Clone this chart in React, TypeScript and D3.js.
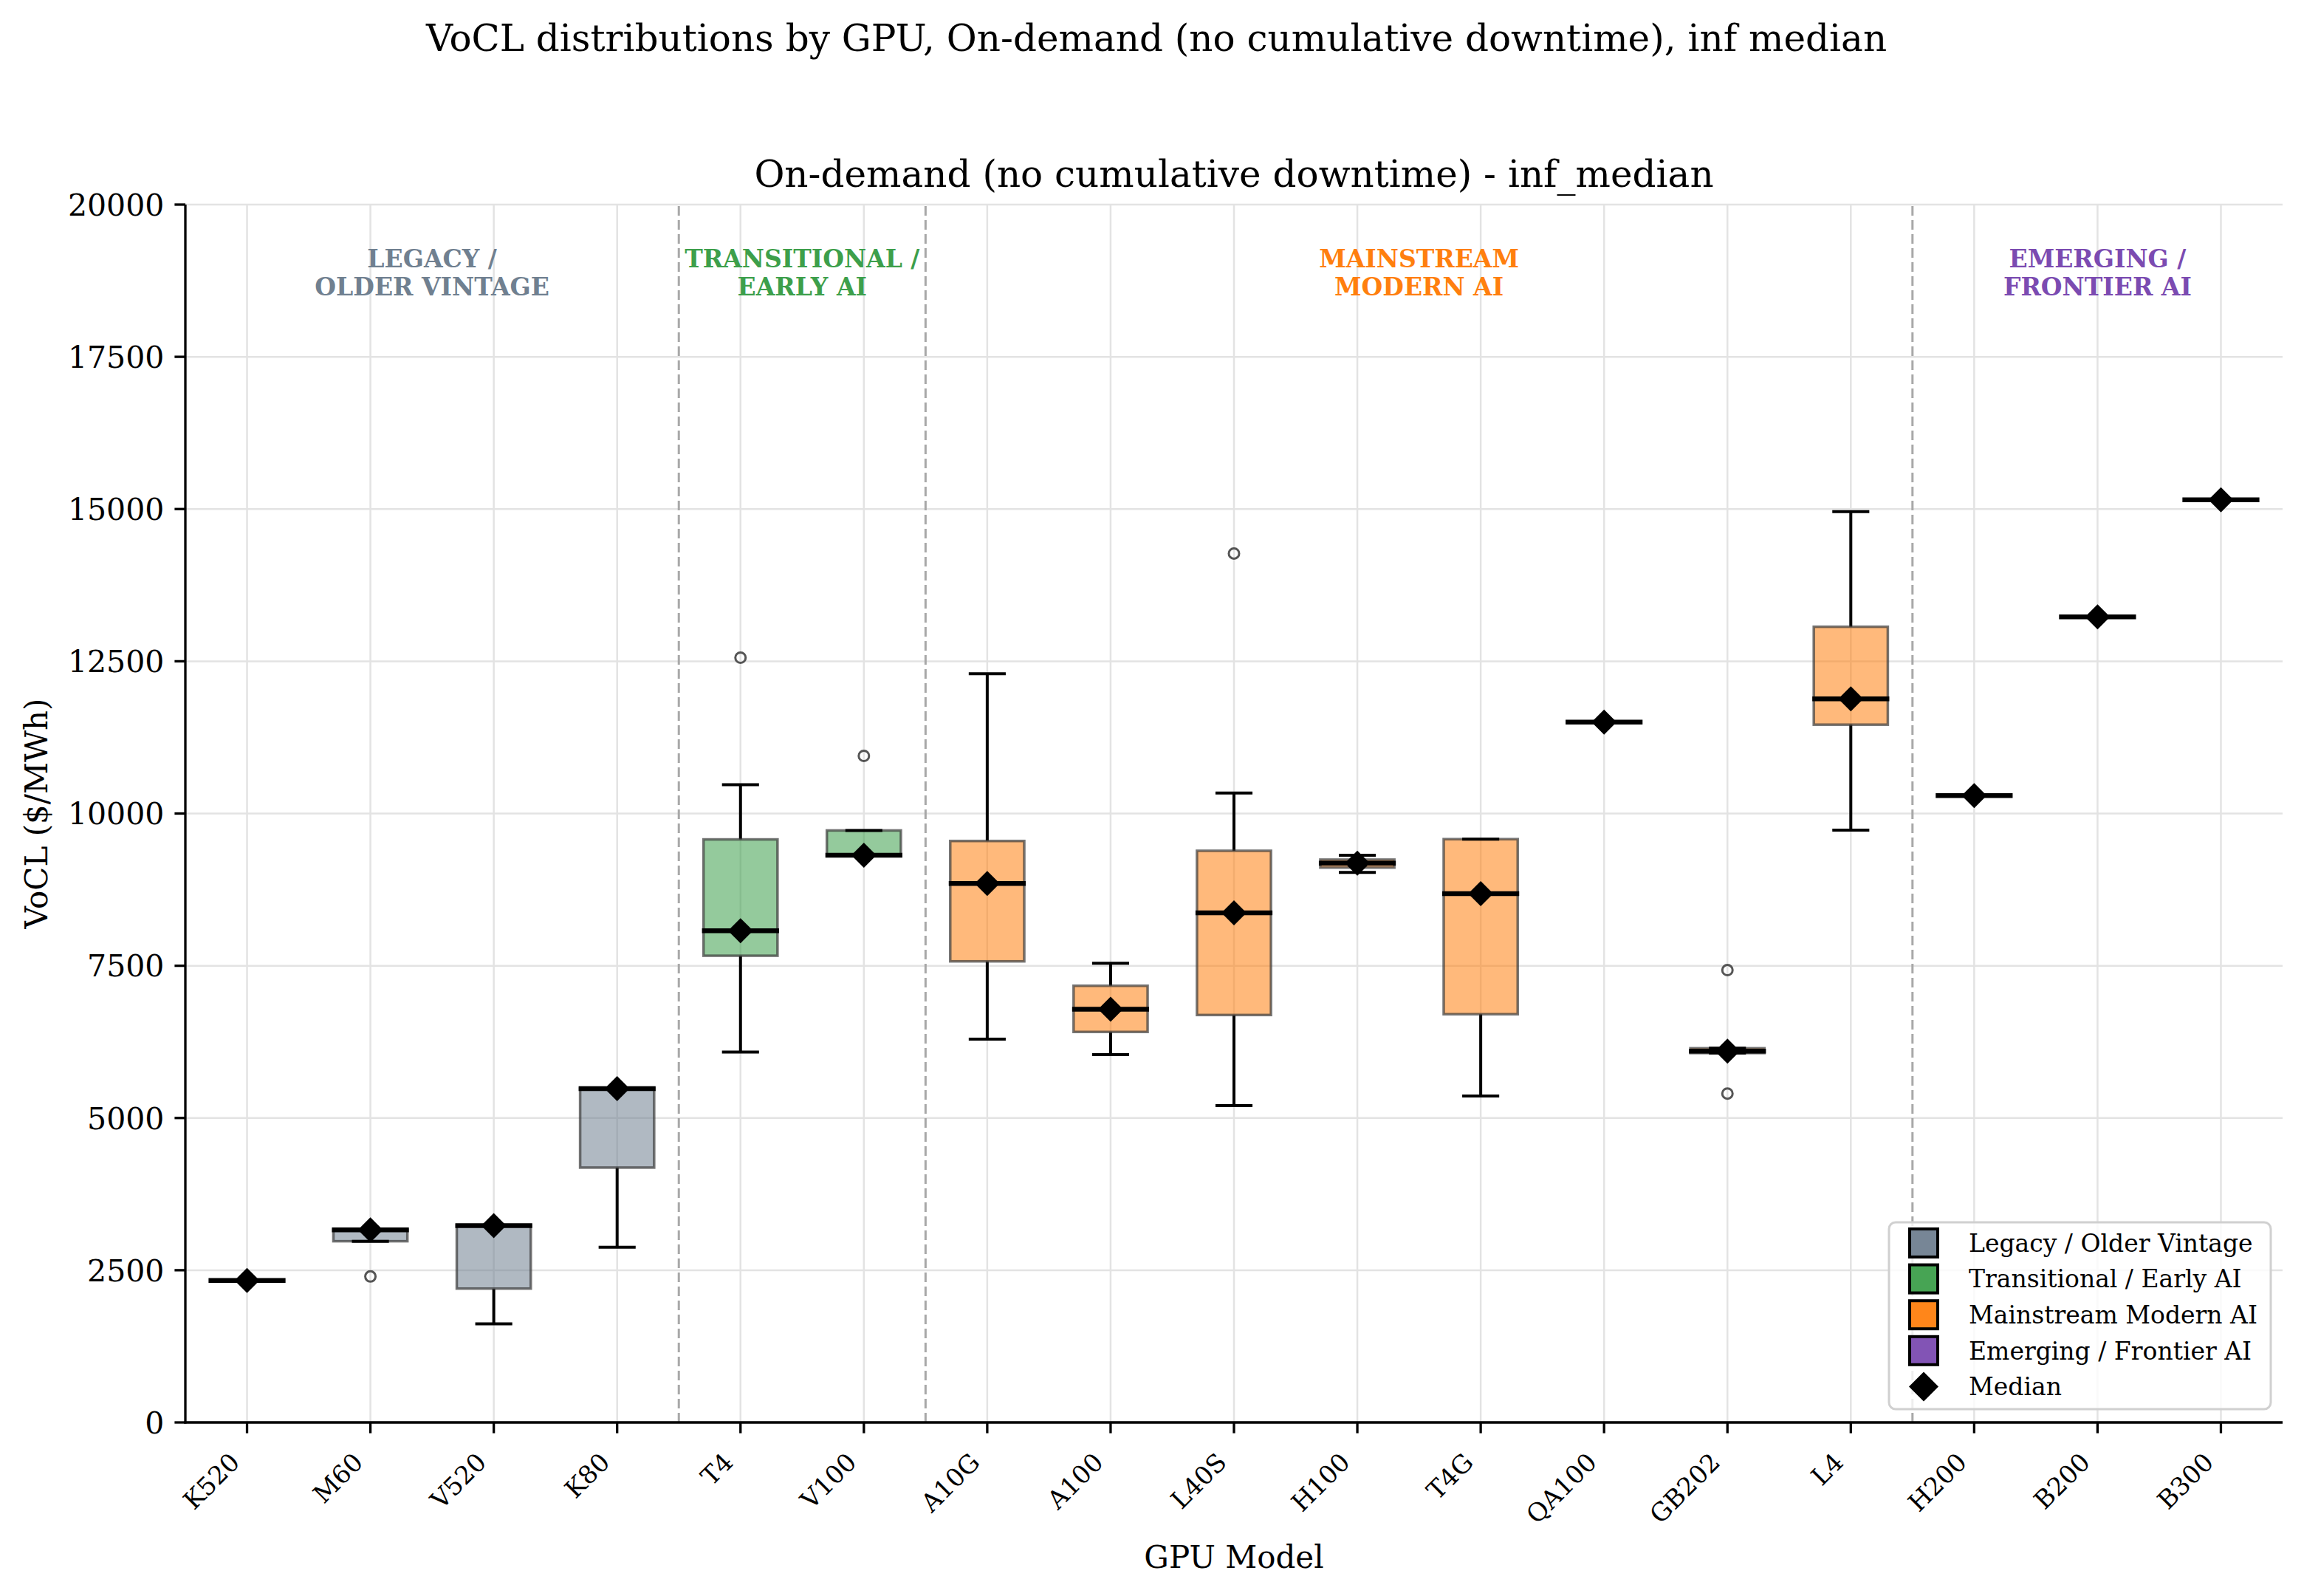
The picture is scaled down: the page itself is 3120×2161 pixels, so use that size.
import * as d3 from "d3"

// GPU categories, left to right
const gpus = ["K520", "M60", "V520", "K80", "T4", "V100", "A10G", "A100", "L40S", "H100", "T4G", "QA100", "GB202", "L4", "H200", "B200", "B300"]
const groupOf = [0, 0, 0, 0, 1, 1, 2, 2, 2, 2, 2, 2, 2, 2, 3, 3, 3]

// box statistics ($/MWh)
const whiskerLow = [2332, 2976, 1619, 2878, 6083, 9316, 6294, 6040, 5204, 9033, 5362, 11500, 6066, 9726, 10293, 13230, 15153]
const q1 = [2332, 2976, 2198, 4185, 7664, 9316, 7572, 6413, 6691, 9112, 6704, 11500, 6066, 11459, 10293, 13230, 15153]
const medians = [2332, 3162, 3231, 5482, 8076, 9316, 8850, 6787, 8368, 9184, 8684, 11500, 6099, 11882, 10293, 13230, 15153]
const q3 = [2332, 3162, 3231, 5482, 9575, 9722, 9549, 7171, 9388, 9243, 9579, 11500, 6145, 13067, 10293, 13230, 15153]
const whiskerHigh = [2332, 3162, 3231, 5482, 10474, 9722, 12294, 7540, 10336, 9316, 9579, 11500, 6145, 14958, 10293, 13230, 15153]
const outliers = [[], [2397], [], [], [12559], [10946], [], [], [14270], [], [], [], [7428, 5401], [], [], [], []]

const groupNames = ["Legacy / Older Vintage", "Transitional / Early AI", "Mainstream Modern AI", "Emerging / Frontier AI"]
const groupLabels = [["LEGACY /", "OLDER VINTAGE"], ["TRANSITIONAL /", "EARLY AI"], ["MAINSTREAM", "MODERN AI"], ["EMERGING /", "FRONTIER AI"]]
const groupColors = ["#708090", "#3d9f4b", "#ff7f0e", "#7b4bb1"]
const groupSpans = [[0, 3], [4, 5], [6, 13], [14, 16]]
const yTicks = [0, 2500, 5000, 7500, 10000, 12500, 15000, 17500, 20000]

const W = 3120
const H = 2161
const FONT = "DejaVu Serif"

export default function App() {
  const x = d3.scaleBand<string>().domain(gpus).range([251, 3091])
  const y = d3.scaleLinear().domain([0, 20000]).range([1926, 277])
  const bw = x.bandwidth()
  const cx = (i: number) => (x(gpus[i]) as number) + bw / 2
  const boxW = bw * 0.6
  const capW = boxW / 2
  const [left, right] = x.range()
  const [bottom, top] = y.range()
  const tick = 14.6

  const diamond = (px: number, py: number, r: number) => `M${px},${py - r}L${px + r},${py}L${px},${py + r}L${px - r},${py}Z`

  // dashed boundaries between groups
  const bounds = groupSpans.slice(0, -1).map((s) => cx(s[1]) + bw / 2)

  const legendX = 2558
  const legendY = 1655

  return (
    <svg width={W} height={H} style={{ position: "absolute", left: 0, top: 0, display: "block", background: "#fff" }} fontFamily={FONT}>
      <rect width={W} height={H} fill="#fff" />
      <text x={1566} y={69} fontSize={50} textAnchor="middle">
        VoCL distributions by GPU, On-demand (no cumulative downtime), inf median
      </text>
      <text x={(left + right) / 2} y={253} fontSize={50} textAnchor="middle">
        On-demand (no cumulative downtime) - inf_median
      </text>

      {/* grid */}
      <g stroke="#e3e3e3" strokeWidth={2.5}>
        {yTicks.map((t) => (
          <line key={t} x1={left} x2={right} y1={y(t)} y2={y(t)} />
        ))}
        {gpus.map((g, i) => (
          <line key={g} x1={cx(i)} x2={cx(i)} y1={bottom} y2={top} />
        ))}
      </g>

      {bounds.map((b) => (
        <line key={b} x1={b} x2={b} y1={bottom} y2={top} stroke="#a8a8a8" strokeWidth={3} strokeDasharray="13,6" />
      ))}

      {/* group annotations */}
      {groupSpans.map((s, gi) => {
        const mx = (cx(s[0]) + cx(s[1])) / 2
        return (
          <text key={gi} x={mx} y={362} fontSize={33} fontWeight="bold" fill={groupColors[gi]} textAnchor="middle">
            <tspan x={mx}>{groupLabels[gi][0]}</tspan>
            <tspan x={mx} dy={38}>
              {groupLabels[gi][1]}
            </tspan>
          </text>
        )
      })}

      {/* boxes */}
      {gpus.map((g, i) => {
        const c = cx(i)
        const col = groupColors[groupOf[i]]
        return (
          <g key={g}>
            <line x1={c} x2={c} y1={y(whiskerLow[i])} y2={y(q1[i])} stroke="#000" strokeWidth={4} />
            <line x1={c} x2={c} y1={y(q3[i])} y2={y(whiskerHigh[i])} stroke="#000" strokeWidth={4} />
            <rect
              x={c - boxW / 2}
              y={y(q3[i])}
              width={boxW}
              height={Math.max(0, y(q1[i]) - y(q3[i]))}
              fill={col}
              fillOpacity={0.55}
              stroke="#3a3a3a"
              strokeOpacity={0.7}
              strokeWidth={3.5}
            />
            <line x1={c - capW / 2} x2={c + capW / 2} y1={y(whiskerLow[i])} y2={y(whiskerLow[i])} stroke="#000" strokeWidth={4} />
            <line x1={c - capW / 2} x2={c + capW / 2} y1={y(whiskerHigh[i])} y2={y(whiskerHigh[i])} stroke="#000" strokeWidth={4} />
            <line x1={c - boxW / 2 - 2} x2={c + boxW / 2 + 2} y1={y(medians[i])} y2={y(medians[i])} stroke="#000" strokeWidth={6.5} />
            {outliers[i].map((o, k) => (
              <circle key={k} cx={c} cy={y(o)} r={7} fill="none" stroke="#555" strokeWidth={3} />
            ))}
            <path d={diamond(c, y(medians[i]), 17)} fill="#000" />
          </g>
        )
      })}

      {/* axes */}
      <line x1={left} x2={left} y1={bottom + 1.5} y2={top} stroke="#000" strokeWidth={3.3} />
      <line x1={left - 1.5} x2={right} y1={bottom} y2={bottom} stroke="#000" strokeWidth={3.3} />
      {yTicks.map((t) => (
        <g key={t}>
          <line x1={left - tick} x2={left} y1={y(t)} y2={y(t)} stroke="#000" strokeWidth={3.3} />
          <text x={left - tick - 14} y={y(t)} dy="0.36em" fontSize={41} textAnchor="end">
            {t}
          </text>
        </g>
      ))}
      {gpus.map((g, i) => (
        <g key={g}>
          <line x1={cx(i)} x2={cx(i)} y1={bottom} y2={bottom + tick} stroke="#000" strokeWidth={3.3} />
          <text transform={`translate(${cx(i) - 8},${bottom + 56}) rotate(-45)`} fontSize={34} textAnchor="end">
            {g}
          </text>
        </g>
      ))}
      <text x={(left + right) / 2} y={2123} fontSize={42} textAnchor="middle">
        GPU Model
      </text>
      <text transform={`translate(64,${(top + bottom) / 2}) rotate(-90)`} fontSize={42} textAnchor="middle">
        VoCL ($/MWh)
      </text>

      {/* legend */}
      <g transform={`translate(${legendX},${legendY})`}>
        <rect x={0} y={0} width={517} height={253} rx={9} fill="#fff" fillOpacity={0.8} stroke="#d0d0d0" strokeWidth={3} />
        {groupNames.map((n, i) => (
          <g key={n} transform={`translate(0,${28 + i * 48.6})`}>
            <rect x={47 - 19} y={-19} width={38} height={38} fill={groupColors[i]} fillOpacity={0.95} stroke="#000" strokeWidth={4} />
            <text x={108} y={0} dy="0.36em" fontSize={33}>
              {n}
            </text>
          </g>
        ))}
        <g transform={`translate(0,${28 + 4 * 48.6})`}>
          <path d={diamond(47, 0, 20)} fill="#000" />
          <text x={108} y={0} dy="0.36em" fontSize={33}>
            Median
          </text>
        </g>
      </g>
    </svg>
  )
}
